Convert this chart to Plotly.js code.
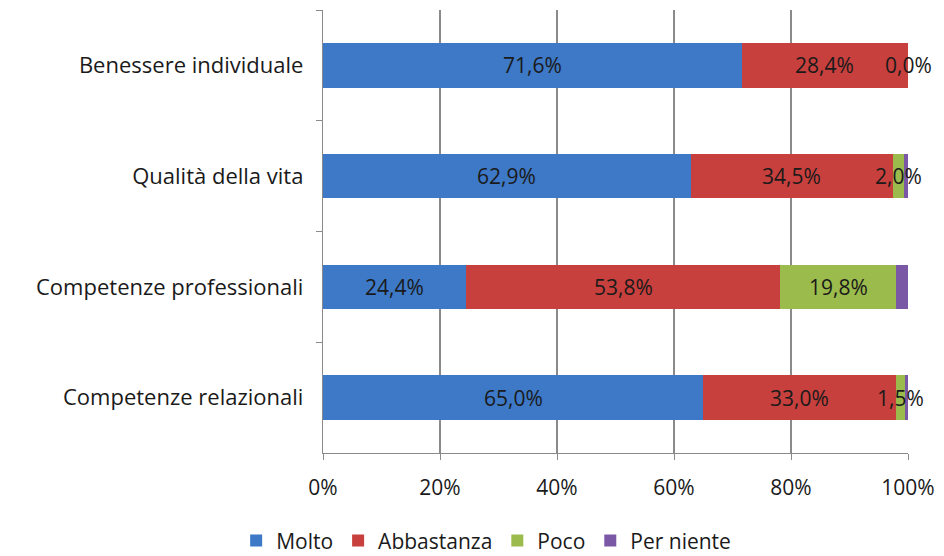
<!DOCTYPE html>
<html>
<head>
<meta charset="utf-8">
<script src="https://cdn.plot.ly/plotly-3.0.1.min.js"></script>
<style>html,body{margin:0;padding:0;background:#fff;}#chart{width:944px;height:556px;}</style>
</head>
<body>
<div id="chart"></div>
<script>
var categories = ["Benessere individuale", "Qualità della vita", "Competenze professionali", "Competenze relazionali"];
var seriesNames = ["Molto", "Abbastanza", "Poco", "Per niente"];
var molto = [71.6, 62.9, 24.4, 65.0];
var abbastanza = [28.4, 34.5, 53.8, 33.0];
var poco = [0.0, 2.0, 19.8, 1.5];
var perNiente = [0.0, 0.6, 2.0, 0.5];
var showLabel = [true, true, true, false];
var colors = ["#3D79C6", "#C8403D", "#9BBB4C", "#7B58A6"];
var xTickVals = [0, 20, 40, 60, 80, 100];
var xTickText = ["0%", "20%", "40%", "60%", "80%", "100%"];

var series = [molto, abbastanza, poco, perNiente];
var font = "Open Sans, Noto Sans, sans-serif";
var traces = series.map(function (vals, i) {
  return {
    type: "bar", orientation: "h", name: seriesNames[i],
    y: categories, x: vals, width: 0.4,
    marker: {color: colors[i], line: {width: 0}},
    hoverinfo: "skip"
  };
});

var annotations = [];
categories.forEach(function (cat, c) {
  var base = 0;
  series.forEach(function (vals, i) {
    var v = vals[c];
    if (showLabel[i]) {
      annotations.push({
        x: base + v / 2, y: cat, xref: "x", yref: "y",
        text: v.toFixed(1).replace(".", ",") + "%",
        showarrow: false, font: {family: font, size: 21, color: "#1a1a1a"},
        xanchor: "center", yanchor: "middle"
      });
    }
    base += v;
  });
});

var layout = {
  width: 944, height: 556,
  margin: {l: 323, r: 36, t: 10, b: 103, autoexpand: false},
  barmode: "stack",
  paper_bgcolor: "#fff", plot_bgcolor: "#fff",
  showlegend: true,
  legend: {orientation: "h", x: 0.515, xanchor: "center", xref: "container", y: -0.152, yanchor: "top", yref: "paper",
    font: {family: font, size: 21, color: "#1a1a1a"}, traceorder: "normal", itemwidth: 30},
  xaxis: {range: [0, 100], tickvals: xTickVals, ticktext: xTickText,
    showgrid: true, gridcolor: "#8a8a8a", gridwidth: 1.2, zeroline: false,
    showline: true, linecolor: "#8a8a8a", linewidth: 1.2, ticks: "outside", ticklen: 6, tickcolor: "#8a8a8a",
    ticklabelstandoff: 10, fixedrange: true,
    tickfont: {family: font, size: 21, color: "#1a1a1a"}},
  yaxis: {autorange: "reversed", type: "category", showline: true, linecolor: "#8a8a8a", linewidth: 1.2,
    ticks: "outside", tickson: "boundaries", ticklen: 6, tickcolor: "#8a8a8a", showgrid: false,
    ticklabelstandoff: 14, tickfont: {family: font, size: 22, color: "#1a1a1a"}},
  annotations: annotations
};

Plotly.newPlot("chart", traces, layout, {staticPlot: true});
</script>
</body>
</html>
